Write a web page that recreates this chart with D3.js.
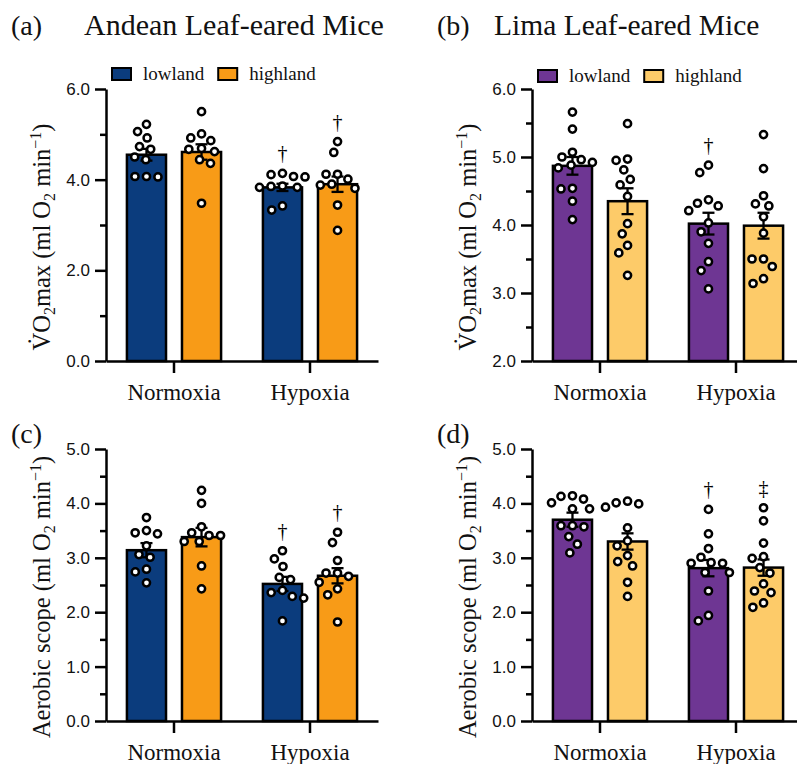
<!DOCTYPE html>
<html><head><meta charset="utf-8">
<script src="https://cdn.jsdelivr.net/npm/d3@7"></script>
<style>body{margin:0;background:#fff} svg{display:block}</style>
</head><body>
<svg id="chart" width="797" height="764"></svg>
<script>
// ---------- DATA ----------
const conditions = ["Normoxia", "Hypoxia"];
const populations = ["lowland", "highland"];
const panelLetters = ["(a)", "(b)", "(c)", "(d)"];
const speciesTitles = ["Andean Leaf-eared Mice", "Lima Leaf-eared Mice"];
const andeanColors = ["#0B3C7D", "#F89B17"];
const limaColors = ["#6E3693", "#FDCB69"];

// bar order: Normoxia-lowland, Normoxia-highland, Hypoxia-lowland, Hypoxia-highland
const andeanVO2Mean = [4.55, 4.61, 3.83, 3.90];
const andeanVO2Sem = [0.13, 0.17, 0.08, 0.17];
const andeanVO2Points = [
  [5.22, 5.06, 4.92, 4.73, 4.67, 4.50, 4.44, 4.07, 4.07, 4.06],
  [5.50, 5.01, 4.92, 4.86, 4.69, 4.67, 4.62, 4.44, 4.36, 3.48],
  [4.14, 4.11, 4.07, 4.06, 3.86, 3.85, 3.83, 3.83, 3.42, 3.33],
  [4.84, 4.60, 4.12, 4.12, 4.01, 3.90, 3.88, 3.81, 3.44, 2.88]
];
const andeanVO2Marks = ["", "", "†", "†"];
const andeanVO2Domain = [0, 6];
const andeanVO2Ticks = [0, 2, 4, 6];
const andeanVO2Minor = [1, 3, 5];

const limaVO2Mean = [4.87, 4.35, 4.02, 3.99];
const limaVO2Sem = [0.13, 0.19, 0.16, 0.19];
const limaVO2Points = [
  [5.66, 5.41, 5.07, 5.00, 4.96, 4.92, 4.88, 4.84, 4.54, 4.53, 4.35, 4.08],
  [5.49, 4.97, 4.95, 4.81, 4.67, 4.59, 4.42, 4.02, 3.87, 3.70, 3.59, 3.26],
  [4.88, 4.77, 4.37, 4.32, 4.28, 4.21, 4.03, 3.90, 3.73, 3.46, 3.33, 3.06],
  [5.33, 4.83, 4.43, 4.31, 4.28, 4.12, 3.88, 3.50, 3.50, 3.39, 3.21, 3.14]
];
const limaVO2Marks = ["", "", "†", ""];
const limaVO2Domain = [2, 6];
const limaVO2Ticks = [2, 3, 4, 5, 6];
const limaVO2Minor = [2.5, 3.5, 4.5, 5.5];

const andeanScopeMean = [3.14, 3.38, 2.52, 2.67];
const andeanScopeSem = [0.13, 0.17, 0.13, 0.14];
const andeanScopePoints = [
  [3.74, 3.50, 3.46, 3.44, 3.22, 3.06, 3.01, 2.79, 2.74, 2.54],
  [4.24, 4.00, 3.57, 3.46, 3.41, 3.41, 3.30, 3.30, 2.85, 2.43],
  [3.13, 2.98, 2.84, 2.64, 2.60, 2.40, 2.36, 2.29, 2.26, 1.84],
  [3.47, 3.28, 2.95, 2.72, 2.72, 2.66, 2.55, 2.43, 2.32, 1.82]
];
const andeanScopeMarks = ["", "", "†", "†"];

const limaScopeMean = [3.70, 3.30, 2.81, 2.82];
const limaScopeSem = [0.13, 0.15, 0.15, 0.15];
const limaScopePoints = [
  [4.14, 4.13, 4.08, 4.01, 3.90, 3.90, 3.59, 3.59, 3.57, 3.39, 3.25, 3.09],
  [4.04, 4.01, 3.99, 3.93, 3.55, 3.31, 3.22, 3.04, 2.93, 2.85, 2.55, 2.29],
  [3.89, 3.44, 3.17, 3.01, 2.91, 2.90, 2.90, 2.73, 2.73, 2.39, 1.94, 1.84],
  [3.92, 3.68, 3.27, 3.02, 2.99, 2.82, 2.72, 2.52, 2.39, 2.36, 2.17, 2.09]
];
const limaScopeMarks = ["", "", "†", "‡"];
const scopeDomain = [0, 5];
const scopeTicks = [0, 1, 2, 3, 4, 5];
const scopeMinor = [0.5, 1.5, 2.5, 3.5, 4.5];

// ---------- LAYOUT / STYLE ----------
const SERIF = "'Liberation Serif', 'Times New Roman', serif";
const SANS = "'Liberation Sans', Arial, sans-serif";
const AXW = 2.5;
const svg = d3.select("#chart");

const panels = [
  { letter: panelLetters[0], title: speciesTitles[0], colors: andeanColors, mean: andeanVO2Mean, sem: andeanVO2Sem,
    points: andeanVO2Points, marks: andeanVO2Marks, domain: andeanVO2Domain, ticks: andeanVO2Ticks, minor: andeanVO2Minor,
    label: "vo2", x0: 106, top: 89, bottom: 361, legend: true, legendY: 74, titleSize: 30 },
  { letter: panelLetters[1], title: speciesTitles[1], colors: limaColors, mean: limaVO2Mean, sem: limaVO2Sem,
    points: limaVO2Points, marks: limaVO2Marks, domain: limaVO2Domain, ticks: limaVO2Ticks, minor: limaVO2Minor,
    label: "vo2", x0: 532, top: 89, bottom: 361, legend: true, legendY: 76, titleSize: 29.5 },
  { letter: panelLetters[2], colors: andeanColors, mean: andeanScopeMean, sem: andeanScopeSem,
    points: andeanScopePoints, marks: andeanScopeMarks, domain: scopeDomain, ticks: scopeTicks, minor: scopeMinor,
    label: "scope", x0: 106, top: 449, bottom: 721 },
  { letter: panelLetters[3], colors: limaColors, mean: limaScopeMean, sem: limaScopeSem,
    points: limaScopePoints, marks: limaScopeMarks, domain: scopeDomain, ticks: scopeTicks, minor: scopeMinor,
    label: "scope", x0: 532, top: 449, bottom: 721 }
];

function swarm(values, y, D) {
  const placed = [];
  const order = values.map((v, i) => i).sort((a, b) => values[b] - values[a]);
  order.forEach(i => {
    const py = y(values[i]);
    const blocked = [];
    placed.forEach(p => {
      const dy = Math.abs(p.y - py);
      if (dy < D) { const w = Math.sqrt(D * D - dy * dy); blocked.push([p.x - w, p.x + w]); }
    });
    const cands = [0];
    blocked.forEach(b => cands.push(b[0], b[1]));
    cands.sort((a, b) => Math.abs(a) - Math.abs(b) || a - b);
    const x = cands.find(c => blocked.every(b => c <= b[0] + 1e-6 || c >= b[1] - 1e-6));
    placed.push({ x: x, y: py, v: values[i] });
  });
  return placed;
}

function axisLabel(g, kind, x, yc) {
  const t = g.append("text")
    .attr("transform", `translate(${x},${yc}) rotate(-90)`)
    .attr("text-anchor", "middle")
    .attr("font-family", SERIF).attr("font-size", 24.5).attr("fill", "#111");
  const parts = kind === "vo2"
    ? [["V\u0307O", 0], ["2", 5], ["max (ml O", -5], ["2", 5], [" min", -5], ["\u22121", -9], [")", 9]]
    : [["Aerobic scope (ml O", 0], ["2", 5], [" min", -5], ["\u22121", -9], [")", 9]];
  parts.forEach(([s, dy]) => {
    const ts = t.append("tspan").text(s).attr("dy", dy);
    if (s === "2" || s === "\u22121") ts.attr("font-size", 16);
  });
}

panels.forEach((P, pi) => {
  const g = svg.append("g");
  const width = 272;
  const y = d3.scaleLinear().domain(P.domain).range([P.bottom, P.top]);
  const xG = d3.scaleBand().domain(conditions).range([P.x0, P.x0 + width]);
  const xS = d3.scaleBand().domain(populations).range([0, xG.bandwidth()]).paddingInner(0.29).paddingOuter(0.38);

  // panel letter and title
  const titleY = P.top < 200 ? 35 : 443;
  g.append("text").attr("x", P.x0 - 95).attr("y", titleY).text(P.letter)
    .attr("font-family", SERIF).attr("font-size", 28).attr("fill", "#111");
  if (P.title) {
    g.append("text").attr("x", P.x0 - 22 - (pi === 1 ? 16 : 0)).attr("y", titleY).text(P.title)
      .attr("font-family", SERIF).attr("font-size", P.titleSize).attr("fill", "#111");
  }

  // bars
  const bars = [];
  conditions.forEach((c, ci) => populations.forEach((p, pj) => {
    const k = ci * 2 + pj;
    bars.push({ c, p, k, mean: P.mean[k], sem: P.sem[k], pts: P.points[k], mark: P.marks[k], color: P.colors[pj] });
  }));

  g.selectAll("rect.bar").data(bars).join("rect").attr("class", "bar")
    .attr("x", d => xG(d.c) + xS(d.p))
    .attr("width", xS.bandwidth())
    .attr("y", d => y(d.mean))
    .attr("height", d => y(P.domain[0]) - y(d.mean))
    .attr("fill", d => d.color).attr("stroke", "#000").attr("stroke-width", 2.5);

  // error bars
  const cap = 6;
  bars.forEach(d => {
    const cx = xG(d.c) + xS(d.p) + xS.bandwidth() / 2;
    const eg = g.append("g").attr("stroke", "#000").attr("stroke-width", 2.3);
    eg.append("line").attr("x1", cx).attr("x2", cx).attr("y1", y(d.mean - d.sem)).attr("y2", y(d.mean + d.sem));
    eg.append("line").attr("x1", cx - cap).attr("x2", cx + cap).attr("y1", y(d.mean + d.sem)).attr("y2", y(d.mean + d.sem));
    eg.append("line").attr("x1", cx - cap).attr("x2", cx + cap).attr("y1", y(d.mean - d.sem)).attr("y2", y(d.mean - d.sem));
  });

  // points
  bars.forEach(d => {
    const cx = xG(d.c) + xS(d.p) + xS.bandwidth() / 2;
    const placed = swarm(d.pts, y, 11.5);
    g.append("g").selectAll("circle").data(placed).join("circle")
      .attr("cx", q => cx + q.x).attr("cy", q => q.y).attr("r", 3.6)
      .attr("fill", "#fff").attr("stroke", "#000").attr("stroke-width", 2.5);
    if (d.mark) {
      const topY = d3.min(placed, q => q.y);
      g.append("text").attr("x", cx).attr("y", topY - 20).attr("dy", "0.35em")
        .attr("text-anchor", "middle").attr("font-family", SERIF).attr("font-size", 20)
        .attr("fill", "#000").text(d.mark);
    }
  });

  // y axis
  const yAx = g.append("g").attr("transform", `translate(${P.x0},0)`)
    .call(d3.axisLeft(y).tickValues(P.ticks).tickFormat(d3.format(".1f")).tickSize(11).tickSizeOuter(0).tickPadding(5));
  yAx.selectAll("text").attr("font-family", SANS).attr("font-size", 17).attr("fill", "#111");
  const yMin = g.append("g").attr("transform", `translate(${P.x0},0)`)
    .call(d3.axisLeft(y).tickValues(P.minor).tickFormat("").tickSize(6).tickSizeOuter(0));
  yMin.select(".domain").remove();
  g.selectAll("path.domain, .tick line").attr("stroke", "#000").attr("stroke-width", AXW);

  // x axis
  const xAx = g.append("g").attr("transform", `translate(0,${P.bottom})`)
    .call(d3.axisBottom(xG).tickSize(12).tickSizeOuter(0).tickPadding(11));
  xAx.selectAll("text").attr("font-family", SERIF).attr("font-size", 23).attr("fill", "#111");
  xAx.selectAll("path.domain, .tick line").attr("stroke", "#000").attr("stroke-width", AXW);

  // y-axis label
  axisLabel(g, P.label, P.x0 - 56, (P.top + P.bottom) / 2 + 12);

  // legend
  if (P.legend) {
    const lg = g.append("g").attr("transform", `translate(${P.x0 + 6},${P.legendY})`);
    let xo = 0;
    populations.forEach((p, pj) => {
      lg.append("rect").attr("x", xo).attr("y", -6).attr("width", 19).attr("height", 12)
        .attr("fill", P.colors[pj]).attr("stroke", "#000").attr("stroke-width", 2);
      const t = lg.append("text").attr("x", xo + 31).attr("y", 6).text(p)
        .attr("font-family", SERIF).attr("font-size", 19).attr("fill", "#111");
      xo += 31 + t.node().getComputedTextLength() + 14;
    });
  }
});
</script>
</body></html>
